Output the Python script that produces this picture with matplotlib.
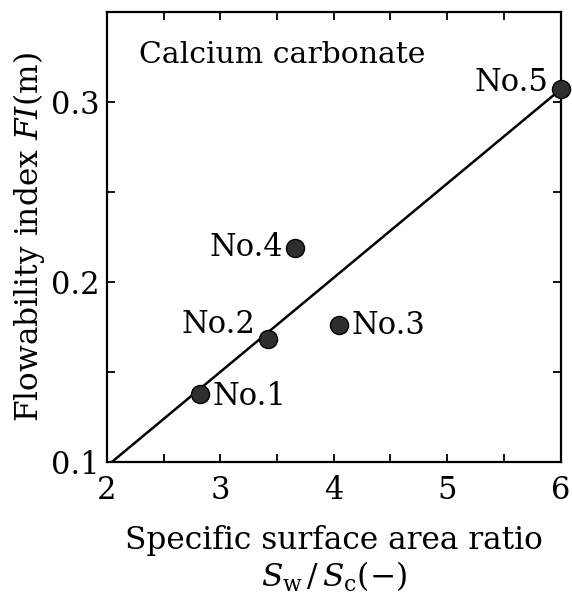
import matplotlib
matplotlib.use('Agg')
import matplotlib.pyplot as plt
import numpy as np

# serif look like the original print
plt.rcParams['font.family'] = 'DejaVu Serif'
plt.rcParams['mathtext.fontset'] = 'dejavuserif'

# data
sample_names = ['No.1', 'No.2', 'No.3', 'No.4', 'No.5']
area_ratio = [2.82, 3.42, 4.05, 3.66, 6.00]
flow_index = [0.138, 0.1685, 0.176, 0.219, 0.307]
fit_x = [2.04, 6.0]
fit_y = [0.100, 0.307]

# label offsets (points) and alignments
label_offsets = [(9, -2), (-9, 10), (9, 0), (-9, 0), (-9, 5)]
label_ha = ['left', 'right', 'left', 'right', 'right']

fig = plt.figure(figsize=(5.72, 5.98), dpi=100)
ax = fig.add_axes([0.187, 0.227, 0.793, 0.753])

ax.plot(fit_x, fit_y, color='black', lw=1.8, zorder=2)
ax.plot(area_ratio, flow_index, 'o', ms=13, mfc='#2e2e2e', mec='black',
        mew=1, zorder=3, clip_on=False)

for name, x, y, off, ha in zip(sample_names, area_ratio, flow_index, label_offsets, label_ha):
    ax.annotate(name, (x, y), xytext=off, textcoords='offset points',
                ha=ha, va='center', fontsize=22)

ax.text(0.07, 0.905, 'Calcium carbonate', transform=ax.transAxes,
        fontsize=21.5, ha='left', va='center')

ax.set_xlim(2, 6)
ax.set_ylim(0.1, 0.35)
ax.set_xticks([2, 3, 4, 5, 6])
ax.set_xticks(np.arange(2.5, 6, 1), minor=True)
ax.set_yticks([0.1, 0.2, 0.3])
ax.set_yticks([0.15, 0.25], minor=True)
ax.set_xticklabels(['2', '3', '4', '5', '6'])
ax.set_yticklabels(['0.1', '0.2', '0.3'])
ax.tick_params(which='both', direction='in', top=True, right=True,
               length=6, width=1.3, labelsize=22)
ax.tick_params(axis='x', pad=9)
ax.tick_params(axis='y', pad=5)
for s in ax.spines.values():
    s.set_linewidth(1.6)

ax.set_ylabel(r'Flowability index $FI$(m)', fontsize=22.5, labelpad=3)
ax.set_xlabel('Specific surface area ratio\n' + r'$S_{\rm w}\,/\,S_{\rm c}(-)$',
              fontsize=22.5, labelpad=14, linespacing=1.15)

plt.savefig('out.png', dpi=100)
